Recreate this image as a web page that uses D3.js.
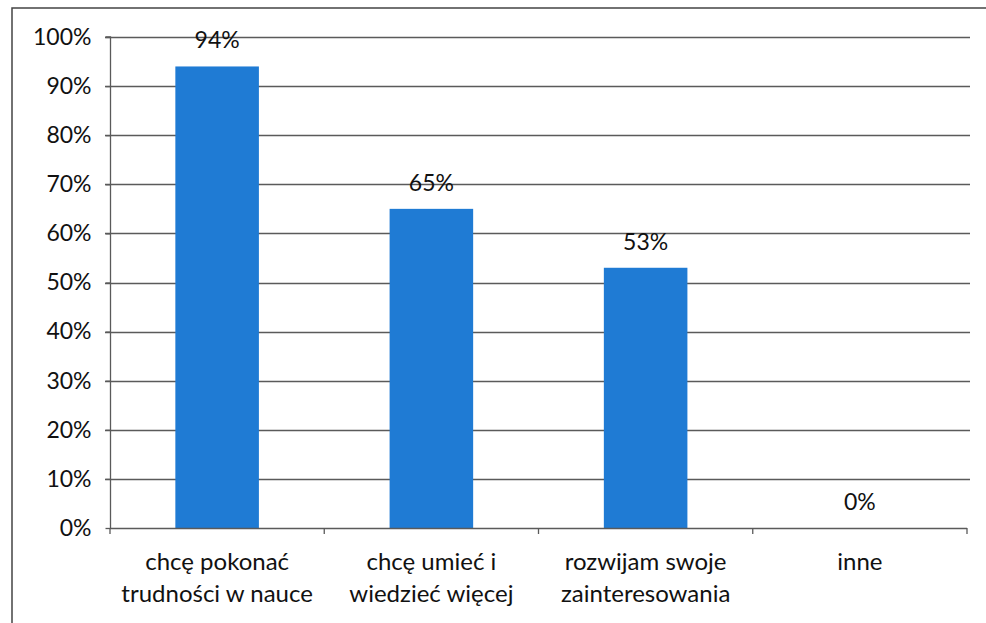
<!DOCTYPE html>
<html>
<head>
<meta charset="utf-8">
<script src="https://cdn.jsdelivr.net/npm/d3@7"></script>
<style>
html,body{margin:0;padding:0;background:#fff;}
svg{display:block;}
text{font-family:Lato,"Open Sans",sans-serif;fill:#111;}
</style>
</head>
<body>
<svg id="chart" width="986" height="623"></svg>
<script>
const categories = [
  ["chcę pokonać", "trudności w nauce"],
  ["chcę umieć i", "wiedzieć więcej"],
  ["rozwijam swoje", "zainteresowania"],
  ["inne"]
];
const values = [0.94, 0.65, 0.53, 0.00];
const yTicks = [0, 0.1, 0.2, 0.3, 0.4, 0.5, 0.6, 0.7, 0.8, 0.9, 1.0];

(function () {
const svg = d3.select("#chart");
const pL = 110, pR = 967, pT = 37, pB = 528;
const fs = 23, fsCat = 24;
const lineColor = "#5a5a5a";

// outer border
svg.append("path").attr("d", "M12,623 L12,8 L986,8")
  .attr("fill", "none").attr("stroke", "#444").attr("stroke-width", 1.5);

const x = d3.scaleBand().domain(d3.range(categories.length)).range([pL, pR]).paddingInner(0.61).paddingOuter(0.305);
const xb = d3.scaleBand().domain(d3.range(categories.length)).range([pL, pR]);
const y = d3.scaleLinear().domain([0, 1]).range([pB, pT]);

// gridlines
svg.append("g").selectAll("line").data(yTicks.filter(d => d > 0)).join("line")
  .attr("x1", pL - 5).attr("x2", pR + 3)
  .attr("y1", d => Math.round(y(d)) + 0.5).attr("y2", d => Math.round(y(d)) + 0.5)
  .attr("stroke", lineColor).attr("stroke-width", 1.3);

// y axis
const yAxis = d3.axisLeft(y).tickValues(yTicks).tickFormat(d3.format(".0%")).tickSize(5).tickPadding(14);
const gy = svg.append("g").attr("transform", `translate(${pL + 0.5},0)`).call(yAxis);
gy.selectAll("path, line").attr("stroke", lineColor).attr("stroke-width", 1.3);
gy.select(".domain").attr("d", `M-5,${pT} H0 V${pB}`);
gy.selectAll("text").style("font-family", "Lato, 'Open Sans', sans-serif").style("font-size", fs + "px").attr("fill", "#111");

// bars
svg.append("g").selectAll("rect").data(values).join("rect")
  .attr("x", (d, i) => x(i)).attr("width", x.bandwidth())
  .attr("y", d => y(d)).attr("height", d => pB - y(d))
  .attr("fill", "#1f7bd4");

// x axis
const xAxis = d3.axisBottom(xb).tickSize(0).tickFormat("");
const gx = svg.append("g").attr("transform", `translate(0,${pB + 0.5})`).call(xAxis);
gx.select(".domain").attr("d", `M${pL},0 H${pR}`).attr("stroke", lineColor).attr("stroke-width", 1.3);
gx.selectAll(".tick").remove();
svg.append("g").selectAll("line").data(d3.range(categories.length + 1)).join("line")
  .attr("x1", i => i < categories.length ? xb(i) : pR).attr("x2", i => i < categories.length ? xb(i) : pR)
  .attr("y1", pB).attr("y2", pB + 6)
  .attr("stroke", lineColor).attr("stroke-width", 1.3);

// category labels
const cat = svg.append("g").selectAll("text").data(categories).join("text")
  .attr("text-anchor", "middle").style("font-size", fsCat + "px");
cat.selectAll("tspan").data((d, i) => d.map(t => ({t, i}))).join("tspan")
  .attr("x", d => xb(d.i) + xb.bandwidth() / 2)
  .attr("y", (d, j) => 570 + j * 32)
  .text(d => d.t);

// value labels
svg.append("g").selectAll("text").data(values).join("text")
  .attr("x", (d, i) => x(i) + x.bandwidth() / 2)
  .attr("y", d => y(d) - 18)
  .attr("text-anchor", "middle").style("font-size", fs + "px")
  .text(d => d3.format(".0%")(d));
})();
</script>
</body>
</html>
